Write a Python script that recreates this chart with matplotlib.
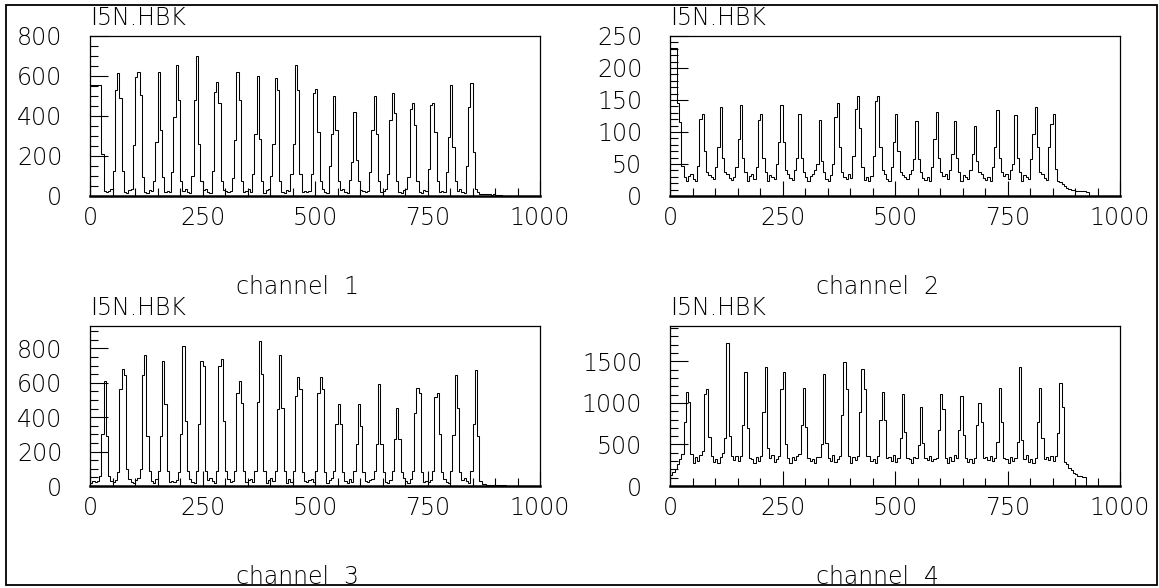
import numpy as np
import matplotlib.pyplot as plt
from matplotlib.patches import Rectangle
from matplotlib.ticker import MultipleLocator

BIN = 5          # channels per bin
NBINS = 200      # 1000 channels

# ---- channel 1 : peak top channel, and bins [rise2, rise1, top, fall1, fall2]
ch1_top = [64, 108, 151, 194, 238, 283, 327, 370, 410, 456,
           501, 544, 586, 631, 673, 718, 761, 803, 846]
ch1_peak = [[127, 530, 614, 488, 127], [253, 597, 622, 505, 94],
            [77, 270, 622, 329, 94], [120, 396, 656, 480, 77],
            [100, 480, 701, 262, 77], [127, 522, 572, 463, 77],
            [90, 278, 622, 480, 77], [110, 312, 600, 287, 77],
            [100, 262, 592, 530, 77], [110, 262, 656, 530, 110],
            [110, 513, 533, 320, 77], [150, 312, 500, 329, 77],
            [80, 169, 421, 178, 77], [120, 329, 500, 312, 77],
            [110, 379, 513, 413, 77], [94, 433, 463, 354, 77],
            [136, 454, 466, 320, 77], [120, 295, 555, 245, 77],
            [150, 446, 567, 220, 35]]
ch1_head = [555, 555, 555, 555, 555, 211]
ch1_tail = [20, 12, 10, 8, 10, 8, 6, 8, 6, 4, 4]
ch1_floor = [27, 18, 24, 33, 20, 15, 28, 35, 22, 17, 30, 25, 19]

# ---- channel 2
ch2_top = [72, 114, 156, 201, 245, 287, 333, 373, 419, 462,
           503, 547, 592, 633, 679, 725, 766, 810, 853]
ch2_peak = [[47, 120, 128, 71, 37], [45, 76, 139, 60, 38],
            [45, 89, 142, 60, 38], [45, 118, 128, 60, 38],
            [50, 84, 142, 84, 40], [40, 60, 128, 60, 38],
            [40, 50, 118, 55, 38], [50, 123, 145, 76, 38],
            [63, 136, 157, 107, 45], [63, 149, 157, 76, 40],
            [45, 84, 128, 71, 38], [40, 58, 117, 58, 38],
            [45, 89, 131, 60, 38], [40, 66, 117, 60, 38],
            [40, 66, 110, 55, 38], [45, 76, 134, 60, 38],
            [40, 50, 126, 60, 38], [58, 97, 139, 76, 38],
            [76, 113, 128, 42, 24]]
ch2_head = [232, 232, 232, 146, 115, 47]
ch2_tail = [22, 18, 15, 12, 11, 9, 9, 8, 8, 8, 8, 8, 7]
ch2_floor = [29, 24, 31, 35, 27, 23, 33, 30, 26, 34, 28, 25]

# ---- channel 3
ch3_top = [33, 74, 120, 161, 205, 247, 291, 333, 378, 422,
           464, 510, 554, 596, 641, 683, 728, 770, 813, 858]
ch3_peak = [[60, 300, 609, 290, 60], [80, 561, 682, 647, 100],
            [100, 647, 763, 290, 90], [90, 292, 724, 474, 90],
            [80, 300, 815, 380, 90], [90, 359, 724, 695, 90],
            [90, 695, 738, 380, 90], [90, 542, 609, 480, 90],
            [90, 490, 843, 650, 90], [90, 445, 763, 455, 90],
            [90, 523, 634, 561, 80], [90, 542, 634, 561, 80],
            [90, 359, 478, 359, 80], [90, 244, 478, 350, 80],
            [90, 244, 594, 244, 80], [90, 273, 455, 273, 80],
            [90, 426, 567, 542, 80], [90, 520, 542, 300, 80],
            [90, 298, 647, 455, 80], [90, 359, 672, 292, 30]]
ch3_head = [20, 30, 25, 30]
ch3_tail = [12, 10, 8, 8, 6, 6, 5, 5, 4, 4, 3]
ch3_floor = [30, 22, 35, 40, 25, 18, 33, 45, 28, 20, 38, 26]

# ---- channel 4
ch4_top = [37, 81, 126, 167, 211, 254, 298, 341, 385, 428,
           472, 515, 559, 602, 647, 689, 733, 779, 821, 865]
ch4_peak = [[380, 771, 1129, 1010, 380], [420, 1110, 1169, 592, 360],
            [400, 572, 1720, 600, 360], [360, 731, 1377, 700, 340],
            [360, 890, 1429, 452, 340], [360, 1169, 1377, 500, 340],
            [380, 731, 1181, 711, 340], [350, 500, 1349, 520, 340],
            [360, 850, 1488, 1169, 360], [360, 890, 1409, 1169, 360],
            [360, 791, 1129, 791, 340], [340, 572, 1110, 651, 340],
            [340, 492, 950, 512, 340], [340, 671, 1110, 930, 340],
            [340, 671, 1081, 611, 340], [340, 731, 998, 771, 340],
            [340, 532, 1181, 771, 340], [340, 532, 1429, 552, 330],
            [340, 771, 1181, 572, 320], [360, 632, 1236, 950, 292]]
ch4_head = [130, 170, 210, 260]
ch4_tail = [260, 220, 190, 160, 140, 120, 115, 110, 110]
ch4_floor = [320, 280, 350, 300, 370, 290, 330, 275, 345, 310, 360, 295]

ymax = [800, 250, 930, 1925]
ymajor = [200, 50, 200, 500]
yminor = [50, 10, 50, 100]


def build(top, peak, head, tail, floor):
    h = np.full(NBINS, np.nan)
    h[:len(head)] = head
    for c, vals in zip(top, peak):
        b = c // BIN
        h[b - 2:b + 3] = vals
    last = top[-1] // BIN + 3
    h[last:last + len(tail)] = tail
    h[last + len(tail):] = 0
    gaps = np.where(np.isnan(h))[0]
    h[gaps] = [floor[i % len(floor)] for i in range(len(gaps))]
    return h


hists = [build(ch1_top, ch1_peak, ch1_head, ch1_tail, ch1_floor),
         build(ch2_top, ch2_peak, ch2_head, ch2_tail, ch2_floor),
         build(ch3_top, ch3_peak, ch3_head, ch3_tail, ch3_floor),
         build(ch4_top, ch4_peak, ch4_head, ch4_tail, ch4_floor)]
edges = np.arange(0, 1000 + BIN, BIN)

W, H = 1159, 588
fig = plt.figure(figsize=(W / 100, H / 100), dpi=100)
plt.rcParams['font.family'] = 'DejaVu Sans'

# axes boxes in pixels: left, top
boxes = [(90, 36), (670, 36), (90, 326), (670, 326)]
aw, ah = 450, 160
fs = 17

for i, (h, (l, t)) in enumerate(zip(hists, boxes)):
    ax = fig.add_axes([l / W, 1 - (t + ah) / H, aw / W, ah / H])
    ax.stairs(h, edges, color='black', linewidth=0.75)
    ax.set_xlim(0, 1000)
    ax.set_ylim(0, ymax[i])
    ax.xaxis.set_major_locator(MultipleLocator(250))
    ax.xaxis.set_minor_locator(MultipleLocator(50))
    ax.yaxis.set_major_locator(MultipleLocator(ymajor[i]))
    ax.yaxis.set_minor_locator(MultipleLocator(yminor[i]))
    ax.tick_params(which='both', direction='in', width=0.8, colors='black')
    ax.tick_params(axis='x', which='major', length=11, labelsize=fs, pad=7)
    ax.tick_params(axis='x', which='minor', length=6)
    ax.tick_params(axis='y', which='major', length=13, labelsize=fs, pad=20)
    ax.tick_params(axis='y', which='minor', length=6)
    for lab in ax.get_xticklabels() + ax.get_yticklabels():
        lab.set_fontweight('light')
    for s in ['top', 'right', 'left']:
        ax.spines[s].set_linewidth(0.9)
    ax.spines['bottom'].set_linewidth(1.8)

    fig.text(l / W, 1 - (t - 18) / H, 'I5N.HBK', fontsize=fs,
             ha='left', va='center', fontweight='light')
    fig.text((l + 208) / W, 1 - (t + 251) / H, f'channel  {i + 1}',
             fontsize=fs, ha='center', va='center', fontweight='light')

# outer frame
fig.patches.append(Rectangle((6 / W, 3 / H), 1151 / W, 580 / H,
                             transform=fig.transFigure, fill=False,
                             edgecolor='black', linewidth=1.3))

fig.savefig('out.png', dpi=100)
